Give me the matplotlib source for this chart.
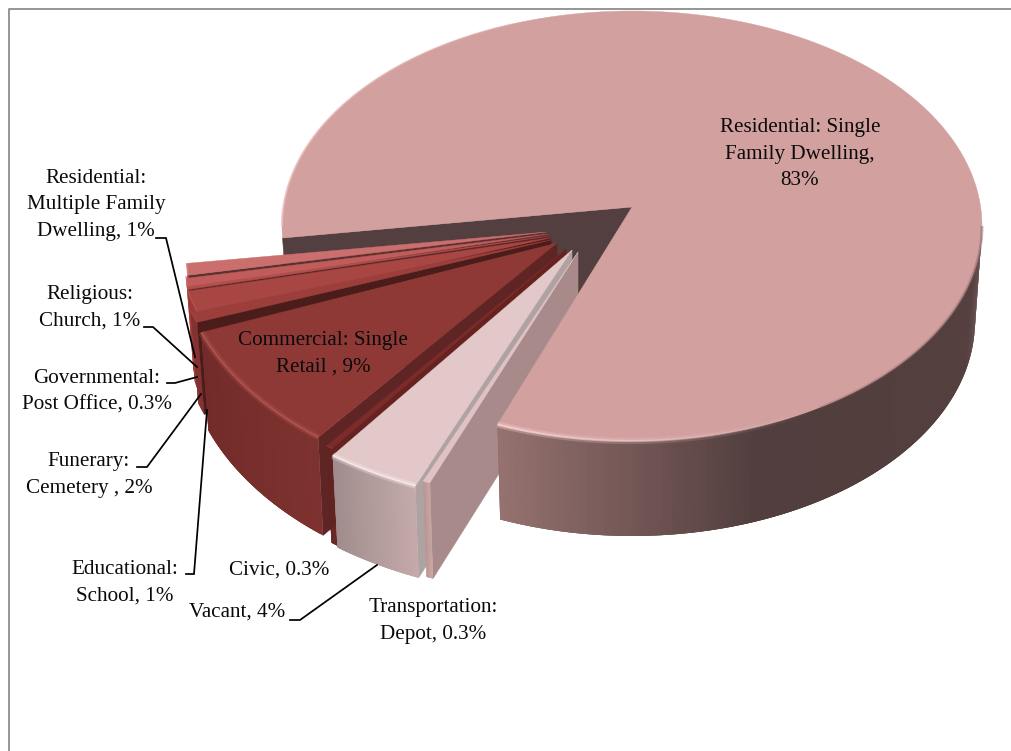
import numpy as np
import matplotlib
matplotlib.use("Agg")
import matplotlib.pyplot as plt
from matplotlib.collections import PolyCollection, LineCollection
from matplotlib.patches import Polygon

# ---- data (clockwise from the main slice) ----
categories = ["Residential: Single Family Dwelling", "Transportation: Depot", "Vacant", "Civic",
              "Commercial: Single Retail", "Educational: School", "Funerary: Cemetery",
              "Governmental: Post Office", "Religious: Church", "Residential: Multiple Family Dwelling"]
values = [83.4, 0.3, 4.0, 0.3, 8.6, 0.8, 2.2, 0.3, 0.8, 0.8]
labels = ["Residential: Single\nFamily Dwelling,\n83%", "Transportation:\nDepot, 0.3%", "Vacant, 4%",
          "Civic, 0.3%", "Commercial: Single\nRetail , 9%", "Educational:\nSchool, 1%",
          "Funerary:\nCemetery , 2%", "Governmental:\nPost Office, 0.3%", "Religious:\nChurch, 1%",
          "Residential:\nMultiple Family\nDwelling, 1%"]

# ---- styles ----
START = 266.8
BOT = 0.98
label_pos = [(800, 154), (433, 621), (237, 612), (279, 570), (323, 354), (125, 583),
             (89, 475), (97, 392), (90, 308), (96, 205)]
# tip x, tip y, Rx, Ry, k (rim centre below tip), depth
geom = [(632, 207, 350, 215, 19, 95), (578, 252, 385, 240, 9, 96), (572, 250, 390, 240, 16, 92),
        (566, 249, 381, 240, 10, 97), (557, 243, 380, 246, 3, 98), (551, 240, 378, 240, -2, 92),
        (550, 238, 368, 194, 18, 92), (549, 236, 366, 240, 12, 92), (548, 234, 364, 240, 17, 92),
        (547, 232, 361, 240, 18, 92)]
top_c = ["#d2a09f", "#e0c2c2", "#e3c8c9", "#7b2b2a", "#8f3937", "#9c3f3c", "#a84644", "#b24f4d", "#c05c5b", "#cb6e6e"]
wall_c = ["#533f3f", "#a88a8b", "#afa2a2", "#64231f", "#5f2524", "#4a1c1a", "#571f1d", "#5e2a28", "#6a3230", "#5c3230"]
side_s = [[(0, (150, 115, 112)), (.39, (82, 62, 62)), (.88, (85, 63, 63)), (1, (118, 92, 92))],
          [(0, (205, 170, 165)), (1, (190, 150, 148))],
          [(0, (197, 170, 170)), (1, (160, 140, 140))],
          [(0, (105, 37, 34)), (1, (100, 35, 32))],
          [(0, (125, 50, 47)), (1, (114, 43, 41))],
          [(0, (130, 50, 48)), (1, (130, 50, 48))],
          [(0, (160, 62, 60)), (1, (160, 62, 60))],
          [(0, (170, 72, 70)), (1, (170, 72, 70))],
          [(0, (185, 78, 76)), (1, (185, 78, 76))],
          [(0, (198, 98, 98)), (1, (198, 98, 98))]]
bevel = [(245, 208, 208), (235, 205, 200), (252, 240, 240), (150, 65, 62), (178, 88, 82),
         (170, 75, 70), (190, 90, 85), (200, 100, 95), (210, 110, 105), (225, 150, 150)]
gap_deg = {8: .5, 7: .4, 6: .5, 5: .4}

fig = plt.figure(figsize=(10.11, 7.51), dpi=100)
ax = fig.add_axes([0, 0, 1, 1])
ax.set_xlim(0, 1011)
ax.set_ylim(751, 0)
ax.axis("off")
ax.plot([9, 9, 1011], [751, 8.5, 8.5], color="#8c8c8c", lw=1.3, zorder=1)

sweep = np.array(values) / sum(values) * 360
a0 = START + np.concatenate([[0], np.cumsum(sweep)[:-1]])
a1 = a0 + sweep


def rim(i, th, bottom=False):
    tx, ty, rx, ry, k, d = geom[i]
    t = np.radians(th)
    f = BOT if bottom else 1.0
    return np.column_stack([tx + f * rx * np.sin(t), ty + k - ry * np.cos(t) + (d if bottom else 0)])


def draw_wall(i, th, z):
    tx, ty, *_, d = geom[i]
    p0, p1 = rim(i, th)[0], rim(i, th, True)[0]
    ax.add_patch(Polygon([(tx, ty), p0, p1, (tx, ty + d)], fc=wall_c[i], ec=wall_c[i], lw=.4, zorder=z))


def draw_side(i, lo, hi, z):
    th = np.linspace(lo, hi, 120)
    up, dn = rim(i, th), rim(i, th, True)
    # each quad overlaps the next one, so that no seam shows
    quads = [[up[j], up[min(j + 3, len(th) - 1)], dn[min(j + 3, len(th) - 1)], dn[j]] for j in range(len(th) - 1)]
    fr = (th[:-1] - lo) / (hi - lo)
    if i == 0:
        fr = 1 - fr
    st = side_s[i]
    xs = [s[0] for s in st]
    cols = [tuple(np.interp(v, xs, [s[1][c] for s in st]) / 255 for c in range(3)) for v in fr]
    ax.add_collection(PolyCollection(quads, facecolors=cols, edgecolors="none", zorder=z))


def draw_top(i, lo, hi, z):
    tx, ty, *_ = geom[i]
    th = np.linspace(lo, hi, 300)
    ax.add_patch(Polygon(np.vstack([[(tx, ty)], rim(i, th)]), fc=top_c[i], ec=top_c[i], lw=.3, zorder=z))


def draw_bevel(i, lo, hi, z, a_lo=.95, a_hi=.95, lw=2.0, col=None):
    th = np.linspace(lo, hi, 60)
    pts = rim(i, th)
    segs = np.stack([pts[:-1], pts[1:]], axis=1)
    c = np.array(col if col else bevel[i]) / 255
    al = np.linspace(a_lo, a_hi, len(segs))
    ax.add_collection(LineCollection(segs, colors=[(*c, a) for a in al], linewidths=lw, zorder=z))


# main slice cut wall, behind everything
draw_wall(0, START, 2)

# exploded slices: back (top of fan) to front, then towards the main slice
order = [9, 8, 7, 6, 5, 4, 3, 2, 1]
z = 3
for i in order:
    lo, hi = a0[i], a1[i]
    draw_wall(i, lo, z)
    draw_side(i, lo, hi, z + .1)
    draw_top(i, lo, hi - gap_deg.get(i, 0), z + .2)
    if i in (2, 4):
        draw_bevel(i, lo, hi, z + .3, a_lo=.3, a_hi=.3, lw=4.5)
        draw_bevel(i, lo, hi, z + .35, a_lo=.8, a_hi=.8, lw=1.4)
    else:
        draw_bevel(i, lo, hi, z + .3, lw=1.0)
    z += 1

# main slice on top: occludes the wall behind its edge
main_end = a1[0] - 360
draw_side(0, 90, main_end, 20)
draw_top(0, a0[0], a1[0], 21)
draw_bevel(0, main_end - 55, main_end, 22, a_lo=0, a_hi=.35, lw=4.5)
draw_bevel(0, main_end - 55, main_end, 22.1, a_lo=0, a_hi=.9, lw=1.6)
draw_bevel(0, 90, main_end - 55, 22, a_lo=.55, a_hi=.25, lw=2.0, col=(140, 105, 105))
draw_bevel(0, 270, 340, 22, a_lo=.8, a_hi=.2, lw=1.5, col=(236, 190, 190))

# leaders
leaders = {9: [(156, 238), (166, 238), (195, 357)], 8: [(144, 327), (153, 327), (197, 367)],
           7: [(167, 383), (175, 383), (197, 377)], 6: [(137, 467), (147, 467), (201, 394)],
           5: [(186, 574), (194, 574), (207, 410)], 2: [(290, 620), (300, 620), (377, 565)]}
for i, pts in leaders.items():
    ax.plot(*zip(*pts), color="black", lw=1.25, zorder=25, solid_joinstyle="miter")

for lab, (x, y) in zip(labels, label_pos):
    ax.text(x, y, lab, ha="center", va="center", family="Liberation Serif", fontsize=15.2,
            color="#0a0a0a", linespacing=1.55, zorder=30)

fig.savefig("out.png", dpi=100)
